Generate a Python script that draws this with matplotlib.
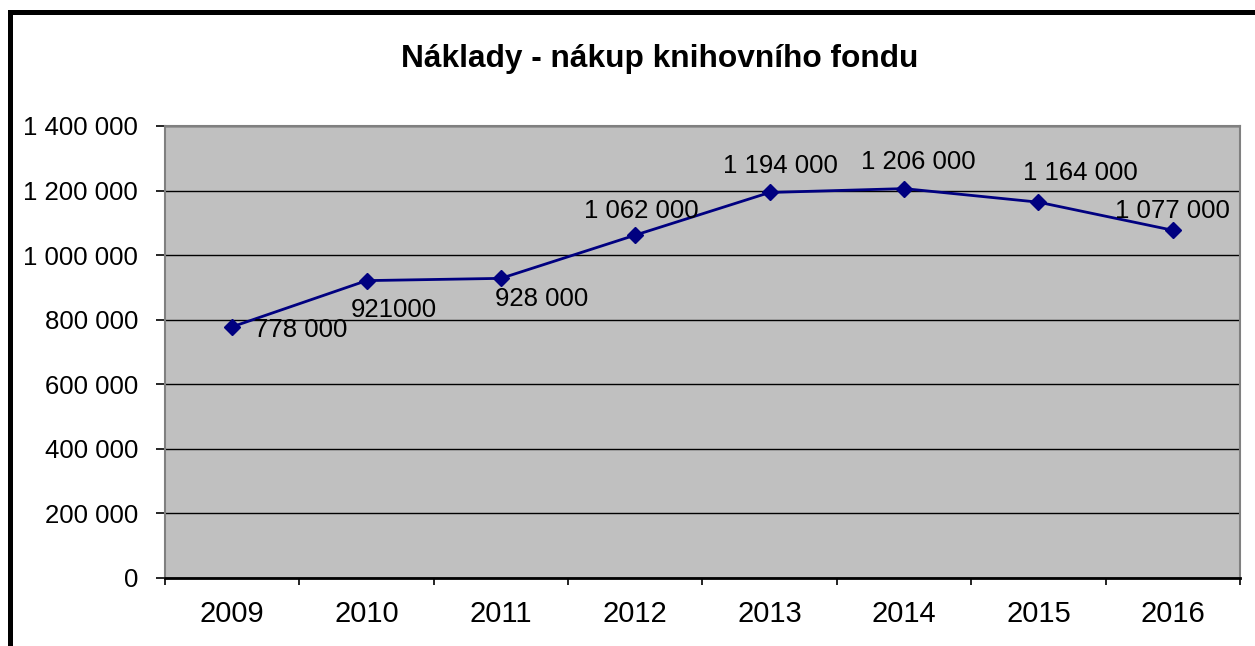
import matplotlib
matplotlib.use('Agg')
import matplotlib.pyplot as plt
import matplotlib.patches as patches
from matplotlib.ticker import FuncFormatter, MultipleLocator, FixedLocator

plt.rcParams['font.family'] = ['Liberation Sans', 'DejaVu Sans']

years  = ['2009', '2010', '2011', '2012', '2013', '2014', '2015', '2016']
costs  = [778000, 921000, 928000, 1062000, 1194000, 1206000, 1164000, 1077000]
labels = ['778 000', '921000', '928 000', '1 062 000', '1 194 000', '1 206 000', '1 164 000', '1 077 000']
title  = 'Náklady - nákup knihovního fondu'

# label offsets (points) relative to each marker, as in the original
offs = [(16, -2), (19.5, -21), (29, -15), (4, 17), (8, 19), (10, 19), (30, 21), (0, 14)]
has  = ['left', 'center', 'center', 'center', 'center', 'center', 'center', 'center']

fig = plt.figure(figsize=(12.55, 6.46), dpi=100)
ax = fig.add_axes([0.1315, 0.1053, 0.8565, 0.6997])
ax.set_facecolor('#C0C0C0')

x = list(range(len(years)))
ax.plot(x, costs, color='#000080', lw=2, marker='D', ms=8.5, mfc='#000080', mec='#000080')
for xi, yi, t, o, h in zip(x, costs, labels, offs, has):
    ax.annotate(t, (xi, yi), xytext=o, textcoords='offset points',
                ha=h, va='center', fontsize=18.5)

ax.set_xlim(-0.5, len(years) - 0.5)
ax.set_ylim(0, 1400000)
ax.yaxis.set_major_locator(MultipleLocator(200000))
ax.yaxis.set_major_formatter(FuncFormatter(lambda v, p: f'{v:,.0f}'.replace(',', ' ')))
ax.grid(axis='y', color='black', lw=1)
ax.set_axisbelow(True)

ax.set_xticks(x)
ax.set_xticklabels(years, fontsize=21)
ax.xaxis.set_minor_locator(FixedLocator([i - 0.5 for i in range(len(years) + 1)]))
ax.tick_params(axis='x', which='major', length=0, pad=16)
ax.tick_params(axis='x', which='minor', length=5, width=1.2, color='black')
ax.tick_params(axis='y', length=6.5, width=1.2, labelsize=18.5, pad=13)

for s in ['top', 'right', 'left']:
    ax.spines[s].set_color('#808080')
    ax.spines[s].set_linewidth(1.5)
ax.spines['bottom'].set_color('black')
ax.spines['bottom'].set_linewidth(2)

fig.text(0.526, 0.908, title, ha='center', va='center', fontsize=22.8, fontweight='bold')

# outer chart frame (only top and left edges fall inside the picture)
fig.add_artist(patches.Rectangle((0.0076, -0.1), 1.2, 0.9807 + 0.1, transform=fig.transFigure,
                                 fill=False, edgecolor='black', lw=3.6))

fig.savefig('out.png', dpi=100)
